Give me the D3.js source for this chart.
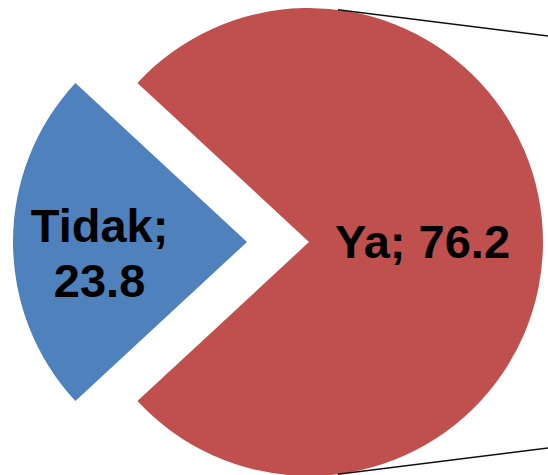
<!DOCTYPE html>
<meta charset="utf-8">
<head>
	<style>
		body { margin: 0; background: #fff; }
		.label { font-family: "Liberation Sans", Arial, sans-serif; font-weight: bold; font-size: 47px; fill: #000; }
	</style>
	<title>Ya / Tidak</title>
</head>

<svg width="548" height="475"></svg>
<script src="https://cdn.jsdelivr.net/npm/d3@7/dist/d3.min.js"></script>

<script>

var categories = ["Ya", "Tidak"];
var values = [76.2, 23.8];
var colors = ["#C0504D", "#4F81BD"];

var svg = d3.select("svg");
var cx = 278, cy = 242;
var radius = 234;
var explode = 31;
// label distance from the slice tip, as a share of radius
var labelPos = { "Ya": 0.485, "Tidak": 0.63 };

var total = d3.sum(values);
var tidakShare = values[1] / total;
// centre the Tidak slice at 9 o'clock
var start = 1.5 * Math.PI - (1 - tidakShare / 2) * 2 * Math.PI;

var pie = d3.pie().sort(null).startAngle(start).endAngle(start + 2 * Math.PI);
var arcs = pie(values);
var arc = d3.arc().innerRadius(0).outerRadius(radius);

var g = svg.append("g").attr("transform", "translate(" + cx + "," + cy + ")");

function mid(d) { return (d.startAngle + d.endAngle) / 2; }

var slices = g.selectAll(".slice")
    .data(arcs)
    .enter().append("g")
    .attr("class", "slice")
    .attr("transform", function(d) {
        var a = mid(d);
        return "translate(" + (Math.sin(a) * explode) + "," + (-Math.cos(a) * explode) + ")";
    });

slices.append("path")
    .attr("d", arc)
    .attr("fill", function(d, i) { return colors[i]; });

// connector lines towards the second pie (off to the right)
var yaMid = mid(arcs[0]);
var ox = Math.sin(yaMid) * explode, oy = -Math.cos(yaMid) * explode;
var theta = 7.1 * Math.PI / 180;
[-1, 1].forEach(function(s) {
    var px = ox + radius * Math.sin(theta);
    var py = oy + s * radius * Math.cos(theta);
    var dx = Math.cos(theta), dy = -s * Math.sin(theta);
    var t = (548 - cx - px + 10) / dx;
    g.append("line")
        .attr("x1", px).attr("y1", py)
        .attr("x2", px + dx * t).attr("y2", py + dy * t)
        .attr("stroke", "#111")
        .attr("stroke-width", 1.5);
});

slices.each(function(d, i) {
    var a = mid(d);
    var r = radius * labelPos[categories[i]];
    var lx = Math.sin(a) * r, ly = -Math.cos(a) * r;
    var lines = categories[i] === "Tidak"
        ? [categories[i] + ";", String(values[i])]
        : [categories[i] + "; " + values[i]];
    var text = d3.select(this).append("text")
        .attr("class", "label")
        .attr("text-anchor", "middle");
    var first = lines.length > 1 ? 0 : 16;
    lines.forEach(function(l, k) {
        text.append("tspan")
            .attr("x", lx)
            .attr("y", ly + first + k * 55)
            .text(l);
    });
});

</script>
